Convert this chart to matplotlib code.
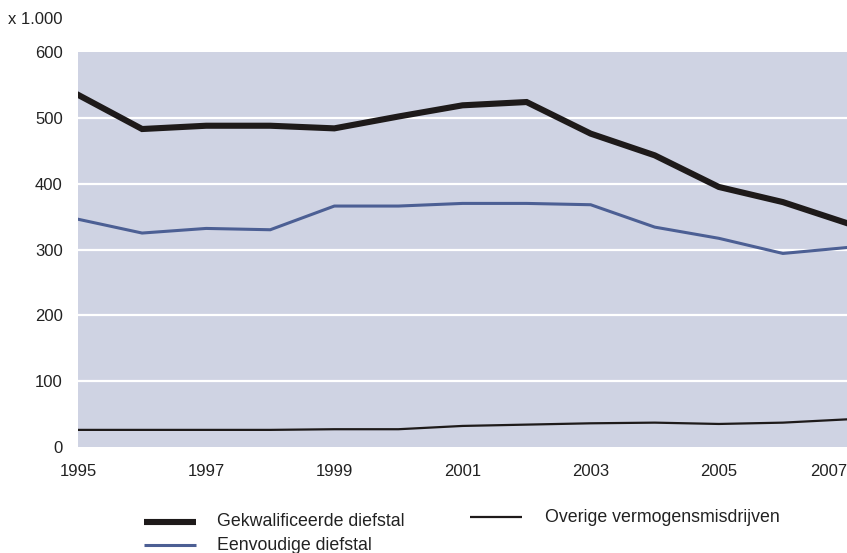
import matplotlib
matplotlib.use("Agg")
import matplotlib.pyplot as plt
from matplotlib.lines import Line2D

plt.rcParams['font.family'] = ['Liberation Sans', 'DejaVu Sans']

years = [1995, 1996, 1997, 1998, 1999, 2000, 2001, 2002, 2003, 2004, 2005, 2006, 2007]
gekwalificeerd = [535, 483, 488, 488, 484, 502, 519, 524, 476, 443, 395, 372, 340]
eenvoudig = [346, 325, 332, 330, 366, 366, 370, 370, 368, 334, 317, 294, 303]
overig = [26, 26, 26, 26, 27, 27, 32, 34, 36, 37, 35, 37, 42]

series_labels = ["Gekwalificeerde diefstal", "Eenvoudige diefstal", "Overige vermogensmisdrijven"]
x_ticks = [1995, 1997, 1999, 2001, 2003, 2005, 2007]
y_ticks = [0, 100, 200, 300, 400, 500, 600]

W, H = 847, 553
fig = plt.figure(figsize=(W / 100, H / 100), dpi=100)
ax = fig.add_axes([78 / W, 1 - 447 / H, (847 - 78) / W, (447 - 52) / H])

bg = "#cfd3e3"
txt = "#222222"
black = "#1e1a1a"
blue = "#4c5f94"
fs_tick = 12
fs_leg = 12.8

ax.set_facecolor(bg)
for s in ax.spines.values():
    s.set_visible(False)

for v in y_ticks[1:-1]:
    ax.axhline(v, color="white", lw=1.6, zorder=1)

ax.plot(years, overig, color=black, lw=1.6, zorder=3, solid_joinstyle="miter")
ax.plot(years, eenvoudig, color=blue, lw=2.2, zorder=3, solid_joinstyle="miter")
ax.plot(years, gekwalificeerd, color=black, lw=4.4, zorder=4, solid_joinstyle="miter")

ax.set_xlim(1995, 2007)
ax.set_ylim(0, 600)
ax.set_xticks(x_ticks)
ax.set_xticklabels([str(t) for t in x_ticks])
ax.set_yticks(y_ticks)
ax.tick_params(axis="both", length=0, labelsize=fs_tick, colors=txt)
ax.tick_params(axis="y", pad=11)
ax.tick_params(axis="x", pad=12)
lbls = ax.get_xticklabels()
lbls[-1].set_horizontalalignment("right")

fig.text(8 / W, 1 - 20 / H, "x 1.000", fontsize=fs_tick, color=txt, va="center", ha="left")

# legend drawn by hand in figure pixels
def legend_item(x0, x1, y, lw, color, label, tx):
    fig.add_artist(Line2D([x0 / W, x1 / W], [1 - y / H, 1 - y / H],
                          transform=fig.transFigure, color=color, lw=lw,
                          solid_capstyle="butt"))
    fig.text(tx / W, 1 - y / H, label, fontsize=fs_leg, color=txt, va="center", ha="left")

legend_item(144, 196, 522, 4.4, black, series_labels[0], 217)
legend_item(144, 196, 545, 2.2, blue, series_labels[1], 217)
legend_item(470, 522, 517, 1.6, black, series_labels[2], 545)

fig.savefig("out.png", dpi=100, facecolor="white")
